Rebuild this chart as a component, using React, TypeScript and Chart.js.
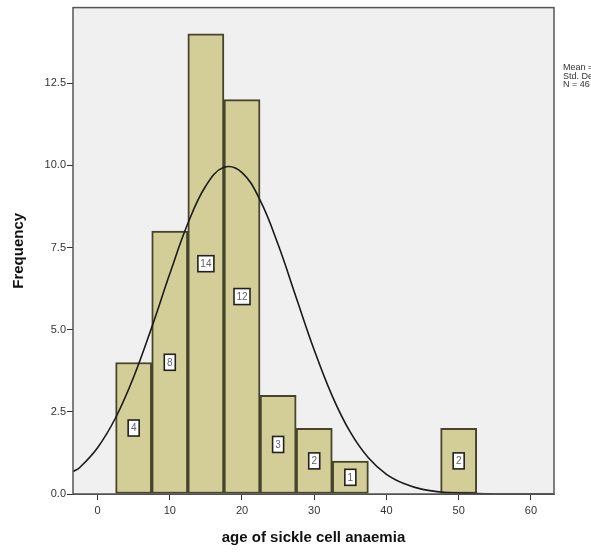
import React, { useEffect, useRef } from "react";
import { Chart, registerables } from "chart.js";

Chart.register(...registerables);

// Histogram bins (centres, width 5) and frequencies
const binCenters = [5, 10, 15, 20, 25, 30, 35, 40, 45, 50];
const frequencies = [4, 8, 14, 12, 3, 2, 1, 0, 0, 2];

// Normal curve overlay
const curveX = [-3.4, -2.5, 0, 2.5, 5, 7.5, 10, 12.5, 15, 17.5, 20, 22.5, 25, 27.5, 30, 32.5, 35, 37.5, 40, 42.5, 45, 47.5, 50, 52.5, 55, 57.5, 60, 63.2];
const curveY = [0.68, 0.8, 1.41, 2.32, 3.56, 5.07, 6.7, 8.23, 9.38, 9.94, 9.78, 8.94, 7.59, 5.98, 4.38, 2.98, 1.88, 1.1, 0.6, 0.31, 0.14, 0.06, 0.03, 0.01, 0.0, 0.0, 0.0, 0.0];

const yTicks = [0, 2.5, 5, 7.5, 10, 12.5];
const xTicks = [0, 10, 20, 30, 40, 50, 60];

const statsLines = ["Mean = 18.2", "Std. Dev. = 9.2", "N = 46"];
const xTitle = "age of sickle cell anaemia";
const yTitle = "Frequency";

export default function App() {
  const ref = useRef<HTMLCanvasElement | null>(null);

  useEffect(() => {
    document.body.style.margin = "0";
    const canvas = ref.current;
    if (!canvas) return;

    const decorPlugin = {
      id: "decor",
      beforeDatasetsDraw(chart: any) {
        const { ctx, chartArea } = chart;
        ctx.save();
        ctx.fillStyle = "#f0f0f0";
        ctx.fillRect(chartArea.left, chartArea.top, chartArea.right - chartArea.left, chartArea.bottom - chartArea.top);
        ctx.restore();
      },
      afterDatasetsDraw(chart: any) {
        const { ctx, chartArea } = chart;
        const meta = chart.getDatasetMeta(0);
        ctx.save();
        meta.data.forEach((bar: any, i: number) => {
          const v = frequencies[i];
          if (!v) return;
          const label = String(v);
          const cx = bar.x;
          const cy = (bar.y + bar.base) / 2;
          const w = label.length > 1 ? 16 : 11;
          const h = 16;
          ctx.fillStyle = "#ffffff";
          ctx.fillRect(cx - w / 2, cy - h / 2, w, h);
          ctx.strokeStyle = "#222222";
          ctx.lineWidth = 1.6;
          ctx.strokeRect(cx - w / 2, cy - h / 2, w, h);
          ctx.fillStyle = "#5f5f70";
          ctx.font = "10px 'Liberation Sans', Arial, sans-serif";
          ctx.textAlign = "center";
          ctx.textBaseline = "middle";
          ctx.fillText(label, cx, cy + 0.5);
        });
        ctx.strokeStyle = "#555555";
        ctx.lineWidth = 1.5;
        ctx.strokeRect(chartArea.left, chartArea.top, chartArea.right - chartArea.left, chartArea.bottom - chartArea.top);
        ctx.restore();
      },
      afterDraw(chart: any) {
        const { ctx, chartArea } = chart;
        ctx.save();
        ctx.fillStyle = "#111111";
        ctx.font = "bold 15px 'Liberation Sans', Arial, sans-serif";
        ctx.textAlign = "center";
        ctx.textBaseline = "middle";
        ctx.fillText(xTitle, (chartArea.left + chartArea.right) / 2, 538);
        ctx.translate(19, (chartArea.top + chartArea.bottom) / 2);
        ctx.rotate(-Math.PI / 2);
        ctx.fillText(yTitle, 0, 0);
        ctx.restore();
        ctx.save();
        ctx.fillStyle = "#333333";
        ctx.font = "9px 'Liberation Sans', Arial, sans-serif";
        ctx.textAlign = "left";
        ctx.textBaseline = "middle";
        statsLines.forEach((t, i) => ctx.fillText(t, 563, 68 + i * 8.5));
        ctx.restore();
      },
    };

    const chart = new Chart(canvas, {
      type: "bar",
      data: {
        datasets: [
          {
            type: "bar",
            data: binCenters.map((x, i) => ({ x, y: frequencies[i] ? frequencies[i] : null })) as any,
            backgroundColor: "#d3ce97",
            borderColor: "#45452c",
            borderWidth: 2,
            borderSkipped: false,
            barPercentage: 1,
            categoryPercentage: 1,
            order: 2,
          } as any,
          {
            type: "line",
            data: curveX.map((x, i) => ({ x, y: curveY[i] })) as any,
            borderColor: "#1a1a1a",
            borderWidth: 1.6,
            pointRadius: 0,
            fill: false,
            tension: 0.4,
            order: 1,
          } as any,
        ],
      },
      options: {
        animation: false,
        responsive: false,
        maintainAspectRatio: false,
        layout: { padding: { left: 0, right: 37, top: 6, bottom: 0 } },
        plugins: { legend: { display: false }, tooltip: { enabled: false } },
        scales: {
          x: {
            type: "linear",
            min: -3.4,
            max: 63.2,
            offset: false,
            grid: { display: true, offset: false, drawOnChartArea: false, drawTicks: true, tickLength: 6, color: "#333333" },
            border: { display: true, color: "#444444" },
            afterBuildTicks: (scale: any) => {
              scale.ticks = xTicks.map((v) => ({ value: v }));
            },
            ticks: {
              includeBounds: false,
              padding: 4,
              color: "#333333",
              font: { family: "'Liberation Sans', Arial, sans-serif", size: 11 },
              maxRotation: 0,
              autoSkip: false,
              callback: (v: any) => String(v),
            },
            afterFit: (scale: any) => {
              scale.height = 62;
            },
          },
          y: {
            type: "linear",
            min: 0,
            max: 14.8,
            grid: { display: true, drawOnChartArea: false, drawTicks: true, tickLength: 6, color: "#333333" },
            border: { display: true, color: "#444444" },
            afterBuildTicks: (scale: any) => {
              scale.ticks = yTicks.map((v) => ({ value: v }));
            },
            ticks: {
              includeBounds: false,
              padding: 1,
              color: "#333333",
              font: { family: "'Liberation Sans', Arial, sans-serif", size: 11 },
              autoSkip: false,
              callback: (v: any) => Number(v).toFixed(1),
            },
            afterFit: (scale: any) => {
              scale.width = 73;
            },
          },
        },
      },
      plugins: [decorPlugin],
    } as any);

    return () => chart.destroy();
  }, []);

  return (
    <div style={{ width: 591, height: 556 }}>
      <canvas ref={ref} width={591} height={556} style={{ display: "block" }} />
    </div>
  );
}
